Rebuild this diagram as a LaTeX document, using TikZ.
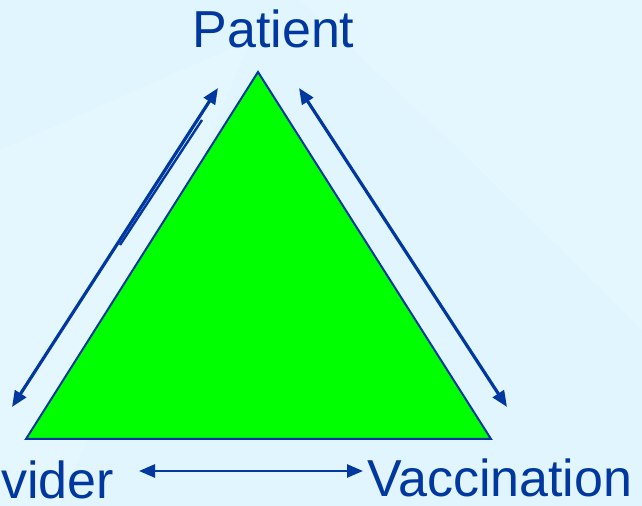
\documentclass[tikz,border=0pt]{standalone}
\usepackage{fontspec}
\setmainfont{Liberation Sans}
\usetikzlibrary{arrows.meta}
\definecolor{navy}{RGB}{0,56,160}
\definecolor{sky}{RGB}{224,245,253}
\definecolor{skylight}{RGB}{229,247,254}
\definecolor{leaf}{RGB}{0,255,0}
\begin{document}
\begin{tikzpicture}[x=0.5pt,y=-0.5pt,
  lbl/.style={text=navy,font=\fontsize{26}{30}\selectfont,inner sep=0pt},
  link/.style={navy,line width=1.6pt,{Triangle[length=8pt,width=6.5pt]}-{Triangle[length=8pt,width=6.5pt]}}]
% backdrop
\fill[sky] (0,0) rectangle (642,506);
\fill[skylight] (300,0) -- (642,0) -- (642,330) -- (470,160) -- cycle;
\fill[skylight] (0,150) -- (250,40) -- (60,506) -- (0,506) -- cycle;
\useasboundingbox (0,0) rectangle (642,506);
% the triangle
\coordinate (top) at (258,72);
\coordinate (bl) at (26,439);
\coordinate (br) at (491,439);
\draw[navy,line width=1pt,fill=leaf] (top) -- (bl) -- (br) -- cycle;
% labels
\node[lbl,anchor=base] (pat) at (273.5,48) {Patient};
\node[lbl,anchor=base west] (prov) at (1,499) {vider};
\node[lbl,anchor=base west] (vac) at (367,497) {Vaccination};
% arrows along the sides
\coordinate (l1) at (12,407);  \coordinate (l2) at (218,88);
\coordinate (r1) at (299,88);  \coordinate (r2) at (507,407);
\coordinate (b1) at (139,471); \coordinate (b2) at (363,471);
\coordinate (s1) at (202,120); \coordinate (s2) at (120,245);
\draw[link] (l1) -- (l2);
\draw[navy,line width=1.2pt] (s1) -- (s2);
\draw[link] (r1) -- (r2);
\draw[link,line width=1.3pt] (b1) -- (b2);
\end{tikzpicture}
\end{document}
